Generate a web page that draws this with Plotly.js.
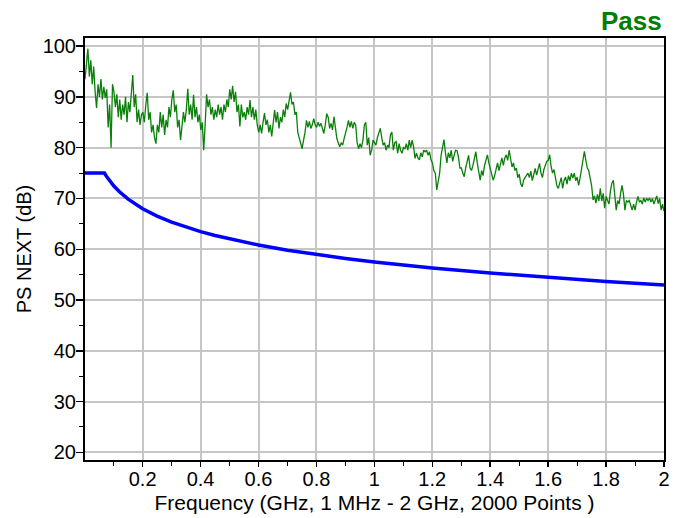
<!DOCTYPE html>
<html>
<head>
<meta charset="utf-8">
<script src="https://cdn.plot.ly/plotly-3.0.1.min.js"></script>
<style>
  html, body { margin: 0; padding: 0; background: #ffffff; }
  #chart { width: 684px; height: 518px; }
</style>
</head>
<body>
<div id="chart"></div>
<script>
// Sweep definition: 1 MHz to 2 GHz
const sweepStartGHz = 0.001;
const sweepStopGHz = 2.0;

// Measured PS NEXT (dB), evenly spaced over the sweep
const nextDb = [
  // 0.0 - 0.1 GHz
  93.5,97.0,99.5,94.0,97.2,92.5,96.0,91.0,87.8,92.5,90.0,93.5,89.5,92.0,89.8,91.5,84.0,88.5,80.0,92.5,
  // 0.1 - 0.2
  91.0,88.0,90.5,86.0,89.5,85.5,88.5,86.5,90.0,85.0,89.0,87.0,91.5,94.3,88.0,90.5,85.0,87.5,84.5,86.5,
  // 0.2 - 0.3
  87.0,85.0,88.5,90.8,85.5,87.0,83.0,84.5,82.0,80.8,84.5,83.0,87.0,84.0,86.5,82.5,85.5,84.0,88.0,86.0,
  // 0.3 - 0.4
  89.5,91.3,87.0,88.5,84.0,85.5,81.5,84.0,87.0,85.0,87.5,91.6,86.5,88.5,85.5,90.4,86.0,88.0,85.0,86.5,
  // 0.4 - 0.5
  83.5,85.0,79.5,84.5,90.5,88.0,89.5,86.5,88.0,85.5,87.5,86.0,88.5,86.5,88.0,85.5,88.5,87.0,89.5,88.0,
  // 0.5 - 0.6
  91.5,89.5,92.2,89.0,91.0,87.0,88.5,84.2,88.5,86.0,87.0,85.5,88.0,86.5,89.4,86.0,88.0,85.5,87.5,84.5,
  // 0.6 - 0.7
  83.0,84.5,82.8,85.0,86.8,84.5,85.5,83.0,84.5,82.2,85.0,87.4,85.0,87.0,83.8,86.0,85.0,87.5,86.0,88.7,
  // 0.7 - 0.8
  87.5,89.5,90.9,88.5,89.0,86.5,87.0,83.0,82.0,80.5,79.8,81.5,83.0,85.4,84.0,85.2,83.8,84.5,85.7,84.5,
  // 0.8 - 0.9
  84.0,85.0,84.2,84.8,83.5,82.8,84.5,86.7,86.0,83.8,84.8,83.5,86.1,83.5,81.8,80.9,80.2,81.0,80.5,81.8,
  // 0.9 - 1.0
  82.8,84.0,85.4,84.0,85.2,83.8,85.0,84.5,81.0,79.8,80.8,80.0,81.5,84.5,85.0,80.5,82.0,78.5,79.5,81.5,
  // 1.0 - 1.1
  81.0,80.5,82.0,83.1,83.8,82.0,80.5,81.0,79.5,80.5,80.0,82.5,83.1,79.5,81.0,81.2,78.9,80.8,79.5,78.9,
  // 1.1 - 1.2
  80.0,79.8,80.8,79.5,81.5,80.0,81.5,80.2,77.9,78.9,78.0,77.6,79.0,78.2,79.5,79.2,79.5,78.5,79.2,77.6,
  // 1.2 - 1.3
  77.0,75.5,75.0,71.7,73.5,75.0,78.5,80.0,81.6,79.0,77.0,79.0,78.0,79.5,77.3,78.5,79.5,79.4,78.2,76.0,
  // 1.3 - 1.4
  76.0,75.0,74.3,76.0,77.5,78.5,76.0,75.5,76.5,78.2,79.2,77.0,75.0,73.6,75.5,74.5,76.5,77.6,78.6,77.0,
  // 1.4 - 1.5
  76.0,74.5,73.6,74.5,75.7,77.0,75.5,77.0,78.0,76.5,78.0,78.6,77.5,79.5,78.0,76.2,77.0,75.5,76.0,74.1,
  // 1.5 - 1.6
  74.8,72.9,72.3,73.6,74.1,74.5,75.0,74.1,75.4,73.5,75.0,75.9,74.6,76.0,76.9,75.0,74.1,75.7,76.4,77.3,
  // 1.6 - 1.7
  77.5,78.6,76.3,75.0,75.7,74.1,72.5,72.0,73.0,74.1,72.0,73.6,74.2,72.8,74.5,73.5,75.0,74.0,75.0,73.5,
  // 1.7 - 1.8
  74.2,72.6,74.0,76.0,78.2,79.3,77.5,76.0,75.5,74.0,72.5,69.7,70.5,69.1,70.8,69.5,72.0,69.5,71.0,68.1,
  // 1.8 - 1.9
  70.4,69.6,68.9,71.5,73.0,73.6,70.5,67.7,69.6,68.9,71.0,72.6,70.8,67.7,69.6,69.3,69.6,68.5,67.7,68.9,
  // 1.9 - 2.0
  67.7,69.3,70.4,69.3,69.6,68.9,70.1,69.3,70.0,69.6,70.1,69.3,70.0,68.9,69.6,70.5,69.0,70.0,67.7,68.9,
  67.5
];

// PS NEXT limit line
const limitFreqGHz = [0.001, 0.068, 0.075, 0.08, 0.09, 0.1, 0.12, 0.15, 0.2, 0.25, 0.3, 0.35, 0.4, 0.45,
                      0.5, 0.55, 0.6, 0.7, 0.8, 0.9, 1.0, 1.2, 1.4, 1.6, 1.8, 2.0];
const limitDb = [75, 75, 74.37, 73.95, 73.19, 72.5, 71.31, 69.86, 67.98, 66.53, 65.34, 64.34, 63.47, 62.70,
                 62.02, 61.39, 60.83, 59.82, 58.95, 58.19, 57.5, 56.31, 55.31, 54.44, 53.67, 52.98];

const resultText = 'Pass';

// Frequency of every measured point across the sweep
const step = (sweepStopGHz - sweepStartGHz) / (nextDb.length - 1);
const nextFreqGHz = nextDb.map((_, i) => sweepStartGHz + i * step);

const fontFamily = 'Arial, "Liberation Sans", sans-serif';
const gridColor = '#c6c6c6';

const traces = [
  {
    x: limitFreqGHz, y: limitDb, type: 'scatter', mode: 'lines',
    line: { color: '#0000ff', width: 3.5 }, hoverinfo: 'skip'
  },
  {
    x: nextFreqGHz, y: nextDb, type: 'scatter', mode: 'lines',
    line: { color: '#0a800a', width: 1.3 }, hoverinfo: 'skip'
  }
];

const layout = {
  width: 684, height: 518,
  margin: { l: 85, r: 20, t: 38, b: 58 },
  paper_bgcolor: '#ffffff', plot_bgcolor: '#ffffff',
  font: { family: fontFamily, size: 20, color: '#000000' },
  showlegend: false,
  xaxis: {
    range: [0.001, 2], tick0: 0, dtick: 0.2,
    ticks: 'outside', ticklen: 5, tickwidth: 1.5, tickcolor: '#000000',
    showline: true, linecolor: '#000000', linewidth: 2, mirror: true,
    showgrid: true, gridcolor: gridColor, gridwidth: 2, zeroline: false,
    minor: { dtick: 0.1, ticks: 'outside', ticklen: 4, tickwidth: 1, tickcolor: '#000000', showgrid: false },
    tickfont: { size: 20 }, ticklabelstandoff: -5,
    title: { text: 'Frequency (GHz, 1 MHz - 2 GHz, 2000 Points )', font: { size: 21 }, standoff: 6 }
  },
  yaxis: {
    range: [18.5, 101.6], tick0: 0, dtick: 10,
    ticks: 'outside', ticklen: 7, tickwidth: 1.5, tickcolor: '#000000',
    showline: true, linecolor: '#000000', linewidth: 2, mirror: true,
    showgrid: true, gridcolor: gridColor, gridwidth: 2, zeroline: false,
    minor: { dtick: 5, ticks: 'outside', ticklen: 4, tickwidth: 1, tickcolor: '#000000', showgrid: false },
    tickfont: { size: 20 }, ticklabelstandoff: -4,
    title: { text: 'PS NEXT (dB)', font: { size: 20 }, standoff: 6 }
  },
  annotations: [{
    text: '<b>' + resultText + '</b>', xref: 'paper', yref: 'paper', x: 1, y: 1,
    xanchor: 'right', yanchor: 'bottom', showarrow: false,
    font: { family: fontFamily, size: 26, color: '#008000' }
  }]
};

Plotly.newPlot('chart', traces, layout, { staticPlot: true, displayModeBar: false });
</script>
</body>
</html>
